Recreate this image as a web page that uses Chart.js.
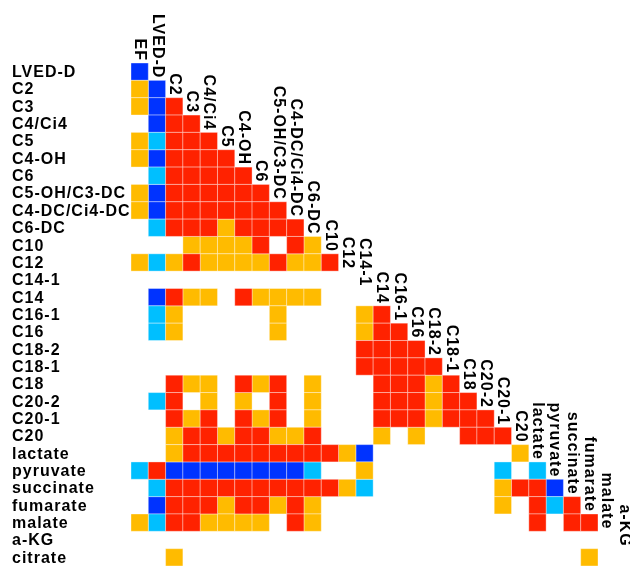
<!DOCTYPE html>
<html>
<head>
<meta charset="utf-8">
<script src="https://cdn.jsdelivr.net/npm/chart.js@4/dist/chart.umd.min.js"></script>
<style>
  body { margin: 0; background: #fff; }
  canvas { display: block; }
</style>
</head>
<body>
<canvas id="corrChart" width="630" height="566"></canvas>
<script>
var rowLabels = ['LVED-D', 'C2', 'C3', 'C4/Ci4', 'C5', 'C4-OH', 'C6', 'C5-OH/C3-DC',
    'C4-DC/Ci4-DC', 'C6-DC', 'C10', 'C12', 'C14-1', 'C14', 'C16-1', 'C16', 'C18-2',
    'C18-1', 'C18', 'C20-2', 'C20-1', 'C20', 'lactate', 'pyruvate', 'succinate',
    'fumarate', 'malate', 'a-KG', 'citrate'];

var colLabels = ['EF', 'LVED-D', 'C2', 'C3', 'C4/Ci4', 'C5', 'C4-OH', 'C6', 'C5-OH/C3-DC',
    'C4-DC/Ci4-DC', 'C6-DC', 'C10', 'C12', 'C14-1', 'C14', 'C16-1', 'C16', 'C18-2',
    'C18-1', 'C18', 'C20-2', 'C20-1', 'C20', 'lactate', 'pyruvate', 'succinate',
    'fumarate', 'malate', 'a-KG'];

// one string per row, one letter per column
// R = strong positive, O = positive, L = negative, B = strong negative, . = n.s.
var cellCodes = [
    'B',
    'OB',
    'OBR',
    '.BRR',
    'OLRRR',
    'OBRRRR',
    '.LRRRRR',
    'OBRRRRRR',
    'OBRRRRRRR',
    '.LRRRORRRR',
    '...OOOOR.RO',
    'OLOROOOOROOR',
    '.............',
    '.BROO.ROOOO...',
    '.LO.....O....OR',
    '.LO.....O....ORR',
    '.............RRRR',
    '.............RRRRR',
    '..ROO.ROR.O...RRROR',
    '.LR.O.O.R.O...RRRORR',
    '..ROR.ROR.O...RRRORRR',
    '..ORRORROOR...O.O..RRR',
    '..ORRRRRRRRROB........O',
    'LRBBBBBBBBL..O.......L.L',
    '.LRRRRRRRRRROL.......ORRB',
    '.BRRRORRORO..........O.RLR',
    'OLRROOOO.RO............R.RR',
    '............................',
    '..O.......................O..'
];

var levelCodes = ['R', 'O', 'L', 'B'];
var levelColors = ['#ff2200', '#ffbb00', '#00bfff', '#0033ff'];

function getCells(code) {
    var cells = [];
    for (var r = 0; r < cellCodes.length; r++) {
        for (var c = 0; c < cellCodes[r].length; c++) {
            if (cellCodes[r][c] === code) {
                cells.push({ x: c, y: r });
            }
        }
    }
    return cells;
}

function getDatasets() {
    var datasets = [];
    for (var i = 0; i < levelCodes.length; i++) {
        datasets.push({
            data: getCells(levelCodes[i]),
            backgroundColor: levelColors[i],
            borderColor: 'rgba(255,255,255,0.35)',
            borderWidth: 1
        });
    }
    return datasets;
}

function cellSide(chart) {
    var xs = chart.scales.x;
    return Math.abs(xs.getPixelForValue(1) - xs.getPixelForValue(0));
}

var labelFont = "bold 16px 'Liberation Sans', Arial, sans-serif";

var labelPlugin = {
    id: 'labels',
    afterDraw: function (chart) {
        var ctx = chart.ctx;
        var xs = chart.scales.x;
        var ys = chart.scales.y;
        var rowH = ys.getPixelForValue(1) - ys.getPixelForValue(0);
        ctx.save();
        ctx.font = labelFont;
        ctx.letterSpacing = '1px';
        ctx.fillStyle = '#000';
        ctx.textBaseline = 'middle';
        ctx.textAlign = 'left';
        for (var r = 0; r < rowLabels.length; r++) {
            ctx.fillText(rowLabels[r], 12, ys.getPixelForValue(r) + 1);
        }
        for (var c = 0; c < colLabels.length; c++) {
            var top = ys.getPixelForValue(c) - rowH / 2;
            ctx.save();
            ctx.translate(xs.getPixelForValue(c), top - 2);
            ctx.rotate(Math.PI / 2);
            ctx.textAlign = 'right';
            ctx.fillText(colLabels[c], 0, 0);
            ctx.restore();
        }
        ctx.restore();
    }
};

function drawChart() {
    var ctx = document.getElementById('corrChart').getContext('2d');

    new Chart(ctx, {
        type: 'scatter',
        data: { datasets: getDatasets() },
        options: {
            responsive: false,
            animation: false,
            layout: { padding: { left: 131, top: 63, right: 0, bottom: 0 } },
            elements: {
                point: {
                    pointStyle: 'rect',
                    radius: function (c) { return cellSide(c.chart) / Math.SQRT2; },
                    hoverRadius: function (c) { return cellSide(c.chart) / Math.SQRT2; }
                }
            },
            scales: {
                x: { type: 'linear', display: false, min: -0.5, max: 28.35 },
                y: { type: 'linear', display: false, min: -0.5, max: 28.5, reverse: true }
            },
            plugins: {
                legend: { display: false },
                tooltip: { enabled: false }
            }
        },
        plugins: [labelPlugin]
    });
}

drawChart();
</script>
</body>
</html>
